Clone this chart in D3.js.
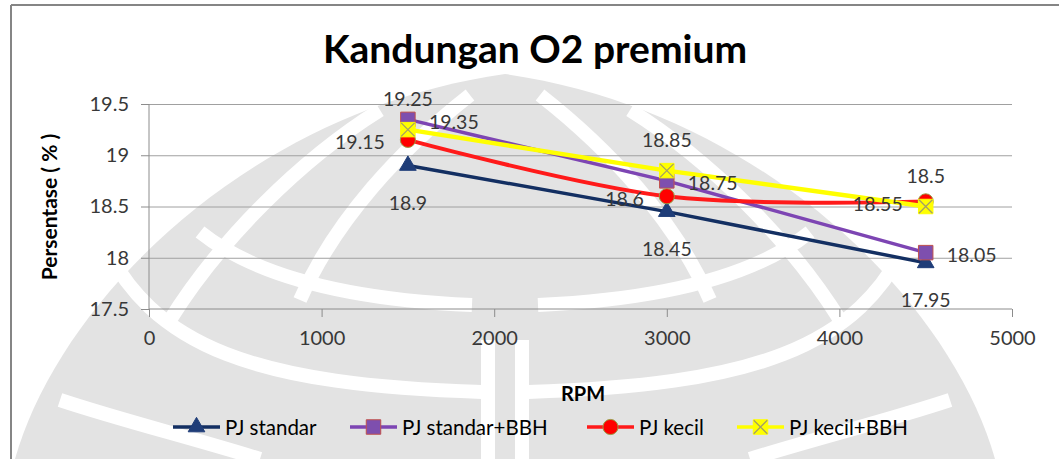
<!DOCTYPE html>
<html>
<head>
<meta charset="utf-8">
<script src="https://cdn.jsdelivr.net/npm/d3@7"></script>
<style>
  body { margin: 0; background: #fff; }
  svg { display: block; }
  text { font-family: Lato, "Open Sans", sans-serif; }
</style>
</head>
<body>
<svg id="chart" width="1059" height="459"></svg>
<script>
// RPM values shared by all series
const rpm = [1500, 3000, 4500];
// Oxygen content (%) for each configuration
const pjStandar    = [18.9, 18.45, 17.95];
const pjStandarBBH = [19.35, 18.75, 18.05];
const pjKecil      = [19.15, 18.6, 18.55];
const pjKecilBBH   = [19.25, 18.85, 18.5];
const seriesNames  = ["PJ standar", "PJ standar+BBH", "PJ kecil", "PJ kecil+BBH"];
const xTicks = [0, 1000, 2000, 3000, 4000, 5000];
const yTicks = [17.5, 18, 18.5, 19, 19.5];

const svg = d3.select("#chart");
const W = 1059, H = 459;

// faint emblem behind the chart (symmetric about x = 505)
const emblem = svg.append("g");
emblem.append("path")
  .attr("d", "M15,459 C60,300 250,110 505,74 C760,110 950,300 995,459 Z")
  .attr("fill", "#e3e3e3");
const halfBands = [
  "M100,235 C150,350 260,385 482,392",
  "M200,232 C260,280 360,300 472,305",
  "M470,95 C400,150 335,220 300,300",
  "M380,110 C300,160 220,240 170,320",
  "M60,400 C120,420 200,440 260,459",
  "M488,340 L488,459"
];
const mirror = d => d.replace(/(-?\d+(?:\.\d+)?),(-?\d+(?:\.\d+)?)/g, (m, a, b) => `${1010 - +a},${b}`);
const bands = halfBands.concat(halfBands.map(mirror));
emblem.selectAll("path.band").data(bands).join("path").attr("class", "band")
  .attr("d", d => d).attr("fill", "none").attr("stroke", "#fff").attr("stroke-width", 14);

// chart frame
svg.append("line").attr("x1", 11).attr("x2", W).attr("y1", 5).attr("y2", 5)
  .attr("stroke", "#858585").attr("stroke-width", 2);
svg.append("line").attr("x1", 11).attr("x2", 11).attr("y1", 5).attr("y2", H)
  .attr("stroke", "#858585").attr("stroke-width", 2);

const x = d3.scaleLinear().domain([0, 5000]).range([149, 1012]);
const y = d3.scaleLinear().domain([17.5, 19.5]).range([309, 104]);

// horizontal gridlines
svg.append("g")
  .attr("transform", `translate(${x(0)},0)`)
  .call(d3.axisLeft(y).tickValues(yTicks.slice(1)).tickSize(-(x(5000) - x(0))).tickFormat(""))
  .call(g => g.select(".domain").remove())
  .call(g => g.selectAll("line").attr("stroke", "#a0a0a0"));

// x axis
svg.append("g")
  .attr("transform", `translate(0,${y(17.5)})`)
  .call(d3.axisBottom(x).tickValues(xTicks).tickSize(8).tickPadding(14).tickFormat(d3.format("d")))
  .call(g => g.select(".domain").attr("stroke", "#8c8c8c").attr("d", `M${x(0)},0H${x(5000)}`))
  .call(g => g.selectAll("line").attr("stroke", "#8c8c8c"))
  .call(g => g.selectAll("text").attr("fill", "#383838").style("font-size", "20px").style("font-family", "Lato, sans-serif"));

// y axis
svg.append("g")
  .attr("transform", `translate(${x(0)},0)`)
  .call(d3.axisLeft(y).tickValues(yTicks).tickSize(8).tickPadding(12).tickFormat(d => String(d)))
  .call(g => g.select(".domain").attr("stroke", "#8c8c8c").attr("d", `M0,${y(17.5)}V${y(19.5)}`))
  .call(g => g.selectAll("line").attr("stroke", "#8c8c8c"))
  .call(g => g.selectAll("text").attr("fill", "#383838").style("font-size", "20px").style("font-family", "Lato, sans-serif"));

// titles
svg.append("text").attr("x", 535).attr("y", 63).attr("text-anchor", "middle")
  .style("font-size", "39px").style("font-weight", "bold").attr("fill", "#000")
  .text("Kandungan O2 premium");
svg.append("text").attr("transform", "translate(57,207) rotate(-90)").attr("text-anchor", "middle")
  .style("font-size", "21px").style("font-weight", "bold").attr("fill", "#000")
  .text("Persentase ( % )");
svg.append("text").attr("x", 583).attr("y", 401).attr("text-anchor", "middle")
  .style("font-size", "20px").style("font-weight", "bold").attr("fill", "#000")
  .text("RPM");

// series styles
const xMark = {
  draw(ctx, size) {
    const r = Math.sqrt(size) / 2;
    ctx.moveTo(-r, -r); ctx.lineTo(r, -r); ctx.lineTo(r, r); ctx.lineTo(-r, r); ctx.closePath();
  }
};
const series = [
  { name: seriesNames[0], values: pjStandar, line: "#132f62", width: 3.5, sym: d3.symbolTriangle, size: 120,
    fill: "#1f3d78", stroke: "#1f3d78", label: "below", curve: d3.curveLinear },
  { name: seriesNames[1], values: pjStandarBBH, line: "#7d45b3", width: 3.5, sym: d3.symbolSquare, size: 210,
    fill: "#7e4fae", stroke: "#c0504d", label: "right", curve: d3.curveLinear },
  { name: seriesNames[2], values: pjKecil, line: "#ff1a1a", width: 4, sym: d3.symbolCircle, size: 180,
    fill: "#ff0000", stroke: "#9b9b45", label: "left", curve: d3.curveCardinal.tension(0) },
  { name: seriesNames[3], values: pjKecilBBH, line: "#ffff00", width: 4.5, sym: xMark, size: 210,
    fill: "#ffff00", stroke: "#ffff00", cross: "#a5a065", label: "above", curve: d3.curveLinear }
];

function drawMarker(g, s, cx, cy) {
  g.append("path").attr("d", d3.symbol().type(s.sym).size(s.size)())
    .attr("transform", `translate(${cx},${cy})`)
    .attr("fill", s.fill).attr("stroke", s.stroke).attr("stroke-width", 1);
  if (s.cross) {
    const r = Math.sqrt(s.size) / 2 - 0.5;
    g.append("path").attr("d", `M${cx - r},${cy - r}L${cx + r},${cy + r}M${cx + r},${cy - r}L${cx - r},${cy + r}`)
      .attr("stroke", s.cross).attr("stroke-width", 1.3).attr("fill", "none");
  }
}

const plot = svg.append("g");
series.forEach(s => {
  const pts = rpm.map((r, i) => [r, s.values[i]]);
  const g = plot.append("g");
  g.append("path").datum(pts)
    .attr("d", d3.line().x(d => x(d[0])).y(d => y(d[1])).curve(s.curve))
    .attr("fill", "none").attr("stroke", s.line).attr("stroke-width", s.width)
    .attr("stroke-linejoin", "round");
  pts.forEach(d => drawMarker(g, s, x(d[0]), y(d[1])));
});

// value labels
series.forEach(s => {
  rpm.forEach((r, i) => {
    const v = s.values[i];
    const px = x(r), py = y(v);
    const t = svg.append("text").style("font-size", "19.5px").attr("fill", "#383838")
      .attr("dominant-baseline", "central").text(String(v));
    if (s.label === "above") t.attr("x", px).attr("y", py - 31).attr("text-anchor", "middle");
    if (s.label === "below") t.attr("x", px).attr("y", py + 37).attr("text-anchor", "middle");
    if (s.label === "right") t.attr("x", px + 21).attr("y", py + 2).attr("text-anchor", "start");
    if (s.label === "left") t.attr("x", px - 23).attr("y", py + 2).attr("text-anchor", "end");
  });
});

// legend
const legendX = [173, 350, 587, 737];
series.forEach((s, i) => {
  const g = svg.append("g");
  const lx = legendX[i], ly = 427;
  g.append("line").attr("x1", lx).attr("x2", lx + 47).attr("y1", ly).attr("y2", ly)
    .attr("stroke", s.line).attr("stroke-width", 3.5);
  drawMarker(g, s, lx + 23.5, ly);
  g.append("text").attr("x", lx + 52).attr("y", ly).attr("dominant-baseline", "central")
    .style("font-size", "20.5px").attr("fill", "#000").text(s.name);
});
</script>
</body>
</html>
